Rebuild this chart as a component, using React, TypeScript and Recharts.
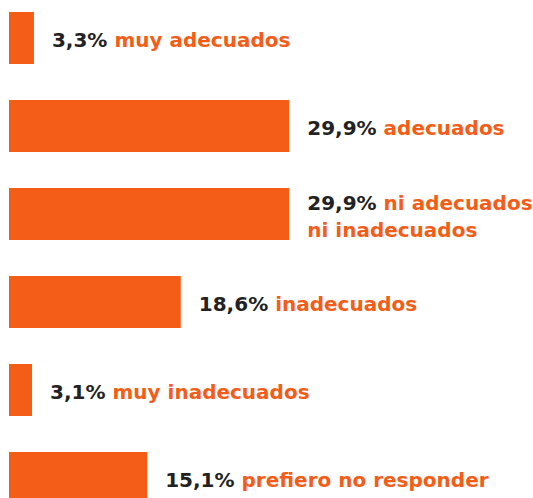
import { BarChart, Bar, XAxis, YAxis, LabelList } from "recharts";

const categories = [
  "muy adecuados",
  "adecuados",
  "ni adecuados\nni inadecuados",
  "inadecuados",
  "muy inadecuados",
  "prefiero no responder",
];
const values = [3.3, 29.9, 29.9, 18.6, 3.1, 15.1];
const valueLabels = ["3,3%", "29,9%", "29,9%", "18,6%", "3,1%", "15,1%"];

const orange = "#F45D18";
const dark = "#222222";

const data = categories.map((name, i) => ({ name, value: values[i], pct: valueLabels[i] }));

const BarLabel = (props: any) => {
  const { x, y, width, height, index } = props;
  const lines = data[index].name.split("\n");
  const tx = x + width + 18;
  const lineH = 27;
  const cy = y + height / 2 + 3;
  const firstY = cy - ((lines.length - 1) * lineH) / 2;
  return (
    <text
      x={tx}
      y={firstY}
      dominantBaseline="middle"
      fontFamily="'DejaVu Sans', sans-serif"
      fontWeight={700}
      fontSize={20}
    >
      {lines.map((line: string, i: number) => (
        <tspan key={i} x={tx} y={firstY + i * lineH}>
          {i === 0 && <tspan fill={dark}>{data[index].pct} </tspan>}
          <tspan fill={orange}>{line}</tspan>
        </tspan>
      ))}
    </text>
  );
};

export default function App() {
  return (
    <div style={{ position: "fixed", left: 0, top: 0, width: 533, height: 498, overflow: "hidden", background: "#fff" }}>
      <div style={{ position: "absolute", left: 0, top: -6 }}>
        <BarChart
          width={533}
          height={528}
          data={data}
          layout="vertical"
          margin={{ top: 0, right: 0, bottom: 0, left: 9 }}
          barSize={52}
        >
          <XAxis type="number" domain={[0.7, 55.3]} hide />
          <YAxis type="category" dataKey="name" hide />
          <Bar dataKey="value" fill={orange} isAnimationActive={false}>
            <LabelList dataKey="value" content={BarLabel} />
          </Bar>
        </BarChart>
      </div>
    </div>
  );
}
